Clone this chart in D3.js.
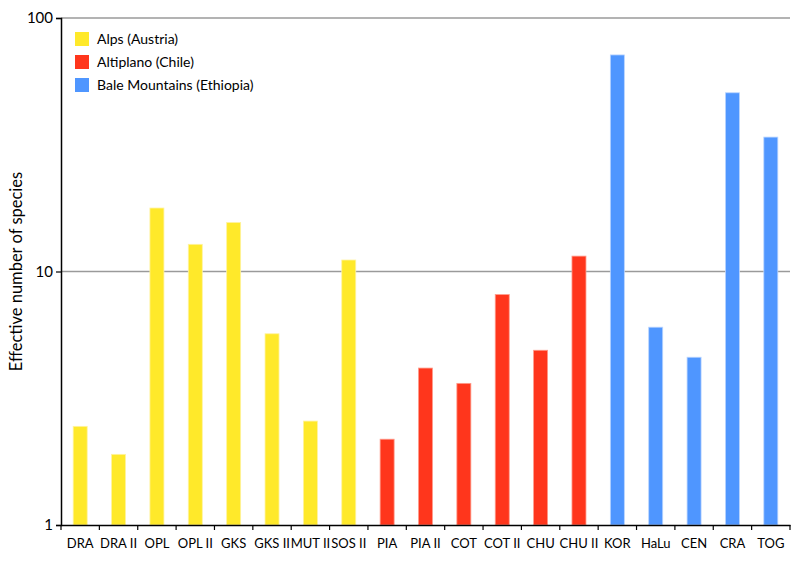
<!DOCTYPE html>
<html>
<head>
<meta charset="utf-8">
<title>Effective number of species</title>
<script type="text/javascript" src="https://d3js.org/d3.v7.js"></script>
<style>
  body { margin: 0; background: #fff; }
  text { font-family: Lato, "Open Sans", sans-serif; fill: #000; }
</style>
</head>
<body>
<script type="text/javascript">
const width = 800;
const height = 563;
const marginTop = 18;
const marginRight = 10;
const marginBottom = 38;
const marginLeft = 61;

// data
const sites = ["DRA", "DRA II", "OPL", "OPL II", "GKS", "GKS II", "MUT II", "SOS II",
               "PIA", "PIA II", "COT", "COT II", "CHU", "CHU II",
               "KOR", "HaLu", "CEN", "CRA", "TOG"];
const values = [2.45, 1.90, 17.8, 12.8, 15.6, 5.68, 2.57, 11.1,
                2.18, 4.16, 3.62, 8.11, 4.89, 11.5,
                71.5, 6.03, 4.59, 50.7, 33.9];
const regionOf = ["Alps", "Alps", "Alps", "Alps", "Alps", "Alps", "Alps", "Alps",
                  "Alti", "Alti", "Alti", "Alti", "Alti", "Alti",
                  "Bale", "Bale", "Bale", "Bale", "Bale"];
const regions = ["Alps", "Alti", "Bale"];
const regionLabels = ["Alps (Austria)", "Altiplano (Chile)", "Bale Mountains (Ethiopia)"];
const yTicks = [1, 10, 100];

const fill = d3.scaleOrdinal().domain(regions).range(["#ffe92a", "#ff361c", "#4f96ff"]);
const edge = d3.scaleOrdinal().domain(regions).range(["#fff3a0", "#ff9c8c", "#b9d4ff"]);

const svg = d3.select("body").append("svg")
    .attr("width", width)
    .attr("height", height);

const x = d3.scaleBand().domain(sites).range([marginLeft, 790]);
const y = d3.scaleLog().domain([1, 100]).range([height - marginBottom, marginTop]);

// gridlines
svg.append("g")
  .selectAll("line")
  .data(yTicks.slice(1))
  .join("line")
    .attr("x1", marginLeft)
    .attr("x2", 790)
    .attr("y1", d => y(d))
    .attr("y2", d => y(d))
    .attr("stroke", "#9a9a9a")
    .attr("stroke-width", 1.5);

// bars
const barW = 14;
svg.append("g")
  .selectAll("rect")
  .data(sites)
  .join("rect")
    .attr("x", d => x(d) + x.bandwidth() / 2 - barW / 2)
    .attr("y", (d, i) => y(values[i]))
    .attr("width", barW)
    .attr("height", (d, i) => y(1) - y(values[i]))
    .attr("fill", (d, i) => fill(regionOf[i]))
    .attr("stroke", (d, i) => edge(regionOf[i]))
    .attr("stroke-width", 0.8);

// x axis
const gx = svg.append("g")
    .attr("transform", `translate(0,${y(1)})`)
    .call(d3.axisBottom(x).tickSize(0).tickPadding(14));
gx.select(".domain").attr("stroke", "#000").attr("stroke-width", 1.5);
gx.selectAll("text").attr("font-size", 13).style("font-family", "Lato, sans-serif");
// tick marks between the categories
gx.selectAll(".sep")
  .data(sites.concat(["end"]))
  .join("line")
    .attr("class", "sep")
    .attr("x1", (d, i) => marginLeft + i * x.step())
    .attr("x2", (d, i) => marginLeft + i * x.step())
    .attr("y1", 0)
    .attr("y2", 5)
    .attr("stroke", "#000")
    .attr("stroke-width", 1.2);

// y axis
const gy = svg.append("g")
    .attr("transform", `translate(${marginLeft},0)`)
    .call(d3.axisLeft(y).tickValues(yTicks).tickFormat(d3.format("d")).tickSize(5).tickPadding(3));
gy.select(".domain").attr("stroke", "#000").attr("stroke-width", 1.5);
gy.selectAll(".tick line").attr("stroke", "#000").attr("stroke-width", 1.2);
gy.selectAll("text").attr("font-size", 15).style("font-family", "Lato, sans-serif");

svg.append("text")
    .attr("transform", `translate(22,${(marginTop + y(1)) / 2}) rotate(-90)`)
    .attr("text-anchor", "middle")
    .attr("font-size", 16.5)
    .text("Effective number of species");

// legend
const legend = svg.append("g").attr("transform", "translate(75,32)");
const row = legend.selectAll("g")
  .data(regions)
  .join("g")
    .attr("transform", (d, i) => `translate(0,${i * 23})`);
row.append("rect")
    .attr("width", 14)
    .attr("height", 14)
    .attr("fill", d => fill(d));
row.append("text")
    .attr("x", 22)
    .attr("y", 7)
    .attr("dy", "0.35em")
    .attr("font-size", 14)
    .text((d, i) => regionLabels[i]);
</script>
</body>
</html>
